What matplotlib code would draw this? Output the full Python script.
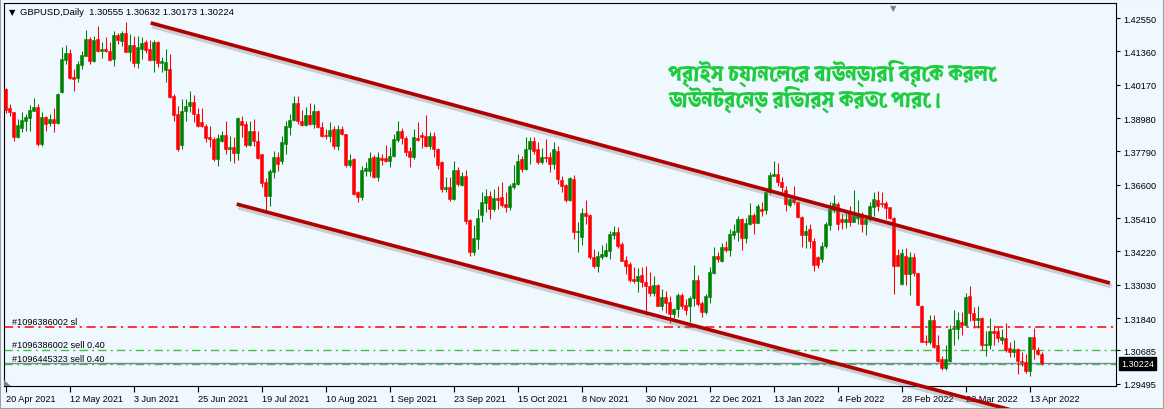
import matplotlib
matplotlib.use("Agg")
import matplotlib.pyplot as plt
import matplotlib.patheffects as pe
from matplotlib import font_manager as fm
from matplotlib.ft2font import FT2Font
from matplotlib.patches import Rectangle, Polygon
import numpy as np

# daily GBPUSD bars (O, H, L, C)
opens = [
    1.4002, 1.3933, 1.3919, 1.3829, 1.3864, 1.3889, 1.3900, 1.3925, 1.3938, 1.3806,
    1.3903, 1.3879, 1.3895, 1.3882, 1.3992, 1.4107, 1.4130, 1.4044, 1.4040, 1.4089,
    1.4121, 1.4180, 1.4102, 1.4180, 1.4139, 1.4145, 1.4137, 1.4109, 1.4195, 1.4174,
    1.4202, 1.4135, 1.4159, 1.4094, 1.4145, 1.4169, 1.4145, 1.4107, 1.4169, 1.4095,
    1.4071, 1.4073, 1.3978, 1.3913, 1.3802, 1.3925, 1.3940, 1.3954, 1.3913, 1.3883,
    1.3871, 1.3829, 1.3823, 1.3752, 1.3817, 1.3838, 1.3788, 1.3794, 1.3773, 1.3889,
    1.3877, 1.3802, 1.3853, 1.3817, 1.3770, 1.3669, 1.3619, 1.3707, 1.3758, 1.3746,
    1.3806, 1.3867, 1.3892, 1.3952, 1.3889, 1.3873, 1.3909, 1.3877, 1.3925, 1.3865,
    1.3838, 1.3833, 1.3859, 1.3797, 1.3859, 1.3841, 1.3731, 1.3752, 1.3635, 1.3615,
    1.3709, 1.3710, 1.3758, 1.3687, 1.3757, 1.3754, 1.3746, 1.3762, 1.3821, 1.3853,
    1.3826, 1.3782, 1.3758, 1.3827, 1.3838, 1.3833, 1.3799, 1.3835, 1.3788, 1.3743,
    1.3645, 1.3651, 1.3609, 1.3713, 1.3659, 1.3693, 1.3535, 1.3421, 1.3467, 1.3552,
    1.3595, 1.3621, 1.3574, 1.3614, 1.3615, 1.3591, 1.3579, 1.3651, 1.3663, 1.3752,
    1.3717, 1.3786, 1.3816, 1.3786, 1.3740, 1.3759, 1.3759, 1.3735, 1.3782, 1.3678,
    1.3659, 1.3607, 1.3681, 1.3490, 1.3475, 1.3559, 1.3552, 1.3401, 1.3369, 1.3401,
    1.3407, 1.3425, 1.3481, 1.3490, 1.3449, 1.3392, 1.3377, 1.3324, 1.3317, 1.3338,
    1.3312, 1.3300, 1.3273, 1.3302, 1.3228, 1.3259, 1.3240, 1.3199, 1.3217, 1.3266,
    1.3231, 1.3228, 1.3254, 1.3320, 1.3238, 1.3205, 1.3258, 1.3345, 1.3407, 1.3386,
    1.3439, 1.3427, 1.3481, 1.3490, 1.3538, 1.3469, 1.3520, 1.3552, 1.3524, 1.3573,
    1.3571, 1.3633, 1.3692, 1.3698, 1.3669, 1.3643, 1.3588, 1.3609, 1.3597, 1.3544,
    1.3481, 1.3502, 1.3460, 1.3401, 1.3395, 1.3443, 1.3517, 1.3571, 1.3591, 1.3536,
    1.3528, 1.3562, 1.3528, 1.3540, 1.3556, 1.3520, 1.3536, 1.3579, 1.3607, 1.3595,
    1.3595, 1.3579, 1.3540, 1.3409, 1.3306, 1.3405, 1.3341, 1.3401, 1.3345, 1.3228,
    1.3103, 1.3097, 1.3178, 1.3086, 1.3038, 1.3005, 1.3032, 1.3143, 1.3143, 1.3171,
    1.3159, 1.3262, 1.3202, 1.3178, 1.3183, 1.3086, 1.3088, 1.3136, 1.3136, 1.3107,
    1.3112, 1.3076, 1.3064, 1.3074, 1.3032, 1.3028, 1.2996, 1.3115, 1.3071, 1.30555,
]
highs = [
    1.4004, 1.3948, 1.3921, 1.3895, 1.3921, 1.3913, 1.3945, 1.3969, 1.3948, 1.3919,
    1.3907, 1.3913, 1.3933, 1.3988, 1.4152, 1.4159, 1.4145, 1.4073, 1.4103, 1.4139,
    1.4213, 1.4186, 1.4192, 1.4226, 1.4169, 1.4186, 1.4171, 1.4210, 1.4202, 1.4210,
    1.4240, 1.4198, 1.4192, 1.4192, 1.4186, 1.4178, 1.4178, 1.4178, 1.4174, 1.4115,
    1.4145, 1.4127, 1.3984, 1.3942, 1.3966, 1.3966, 1.3996, 1.3981, 1.3933, 1.3933,
    1.3877, 1.3871, 1.3829, 1.3841, 1.3853, 1.3889, 1.3835, 1.3829, 1.3901, 1.3907,
    1.3889, 1.3887, 1.3895, 1.3853, 1.3770, 1.3683, 1.3716, 1.3782, 1.3776, 1.3835,
    1.3889, 1.3913, 1.3978, 1.3978, 1.3928, 1.3936, 1.3952, 1.3948, 1.3928, 1.3885,
    1.3859, 1.3883, 1.3871, 1.3873, 1.3871, 1.3841, 1.3770, 1.3754, 1.3639, 1.3728,
    1.3740, 1.3776, 1.3766, 1.3778, 1.3770, 1.3802, 1.3794, 1.3841, 1.3889, 1.3862,
    1.3835, 1.3794, 1.3859, 1.3883, 1.3847, 1.3909, 1.3847, 1.3847, 1.3790, 1.3746,
    1.3687, 1.3687, 1.3746, 1.3723, 1.3705, 1.3713, 1.3538, 1.3516, 1.3574, 1.3635,
    1.3645, 1.3639, 1.3645, 1.3657, 1.3669, 1.3633, 1.3663, 1.3731, 1.3770, 1.3764,
    1.3829, 1.3829, 1.3829, 1.3811, 1.3790, 1.3823, 1.3778, 1.3811, 1.3797, 1.3693,
    1.3663, 1.3687, 1.3696, 1.3526, 1.3576, 1.3607, 1.3556, 1.3431, 1.3425, 1.3445,
    1.3452, 1.3496, 1.3514, 1.3508, 1.3455, 1.3407, 1.3383, 1.3365, 1.3362, 1.3365,
    1.3369, 1.3348, 1.3335, 1.3306, 1.3288, 1.3282, 1.3264, 1.3219, 1.3273, 1.3273,
    1.3252, 1.3264, 1.3374, 1.3338, 1.3246, 1.3270, 1.3365, 1.3437, 1.3419, 1.3452,
    1.3460, 1.3502, 1.3520, 1.3550, 1.3540, 1.3540, 1.3595, 1.3559, 1.3591, 1.3597,
    1.3635, 1.3707, 1.3746, 1.3738, 1.3687, 1.3654, 1.3623, 1.3657, 1.3600, 1.3550,
    1.3517, 1.3520, 1.3469, 1.3407, 1.3454, 1.3526, 1.3597, 1.3623, 1.3600, 1.3556,
    1.3562, 1.3585, 1.3642, 1.3607, 1.3564, 1.3550, 1.3600, 1.3635, 1.3639, 1.3633,
    1.3603, 1.3579, 1.3544, 1.3431, 1.3431, 1.3433, 1.3419, 1.3416, 1.3345, 1.3231,
    1.3124, 1.3193, 1.3195, 1.3124, 1.3050, 1.3086, 1.3159, 1.3214, 1.3205, 1.3205,
    1.3273, 1.3297, 1.3222, 1.3226, 1.3187, 1.3139, 1.3183, 1.3155, 1.3151, 1.3145,
    1.3167, 1.3100, 1.3107, 1.3076, 1.3062, 1.3056, 1.3115, 1.3147, 1.3080, 1.30632,
]
lows = [
    1.3916, 1.3907, 1.3818, 1.3826, 1.3850, 1.3853, 1.3853, 1.3925, 1.3797, 1.3797,
    1.3853, 1.3869, 1.3850, 1.3877, 1.3988, 1.4091, 1.4038, 1.3996, 1.4028, 1.4073,
    1.4119, 1.4091, 1.4097, 1.4135, 1.4112, 1.4133, 1.4103, 1.4085, 1.4163, 1.4154,
    1.4133, 1.4103, 1.4079, 1.4076, 1.4109, 1.4130, 1.4103, 1.4064, 1.4079, 1.4064,
    1.4026, 1.3969, 1.3889, 1.3782, 1.3788, 1.3889, 1.3919, 1.3883, 1.3865, 1.3865,
    1.3812, 1.3794, 1.3746, 1.3726, 1.3812, 1.3770, 1.3746, 1.3738, 1.3750, 1.3829,
    1.3794, 1.3797, 1.3800, 1.3752, 1.3651, 1.3568, 1.3585, 1.3683, 1.3710, 1.3734,
    1.3770, 1.3838, 1.3889, 1.3877, 1.3871, 1.3869, 1.3873, 1.3862, 1.3862, 1.3829,
    1.3823, 1.3814, 1.3788, 1.3785, 1.3838, 1.3722, 1.3722, 1.3623, 1.3600, 1.3607,
    1.3690, 1.3690, 1.3683, 1.3675, 1.3731, 1.3740, 1.3722, 1.3758, 1.3812, 1.3806,
    1.3764, 1.3722, 1.3752, 1.3817, 1.3790, 1.3794, 1.3786, 1.3758, 1.3717, 1.3633,
    1.3635, 1.3603, 1.3607, 1.3654, 1.3657, 1.3520, 1.3407, 1.3409, 1.3431, 1.3528,
    1.3562, 1.3538, 1.3568, 1.3574, 1.3579, 1.3564, 1.3571, 1.3645, 1.3659, 1.3705,
    1.3714, 1.3735, 1.3770, 1.3735, 1.3735, 1.3740, 1.3705, 1.3717, 1.3663, 1.3635,
    1.3600, 1.3603, 1.3467, 1.3421, 1.3445, 1.3520, 1.3395, 1.3362, 1.3350, 1.3395,
    1.3401, 1.3393, 1.3467, 1.3433, 1.3386, 1.3341, 1.3314, 1.3309, 1.3276, 1.3294,
    1.3193, 1.3264, 1.3264, 1.3226, 1.3214, 1.3202, 1.3166, 1.3183, 1.3187, 1.3217,
    1.3193, 1.3169, 1.3226, 1.3226, 1.3187, 1.3199, 1.3238, 1.3341, 1.3383, 1.3383,
    1.3421, 1.3407, 1.3466, 1.3460, 1.3428, 1.3452, 1.3517, 1.3484, 1.3524, 1.3550,
    1.3556, 1.3627, 1.3692, 1.3657, 1.3633, 1.3568, 1.3579, 1.3591, 1.3540, 1.3437,
    1.3433, 1.3433, 1.3353, 1.3362, 1.3383, 1.3433, 1.3500, 1.3562, 1.3500, 1.3502,
    1.3505, 1.3514, 1.3526, 1.3520, 1.3493, 1.3481, 1.3532, 1.3550, 1.3567, 1.3579,
    1.3536, 1.3538, 1.3270, 1.3369, 1.3302, 1.3302, 1.3266, 1.3335, 1.3231, 1.3097,
    1.3086, 1.3091, 1.3076, 1.3028, 1.3000, 1.3000, 1.3028, 1.3086, 1.3109, 1.3124,
    1.3157, 1.3175, 1.3147, 1.3147, 1.3068, 1.3050, 1.3074, 1.3086, 1.3097, 1.3091,
    1.3064, 1.3044, 1.3044, 1.2984, 1.3014, 1.2988, 1.2976, 1.3038, 1.3052, 1.30173,
]
closes = [
    1.3928, 1.3919, 1.3829, 1.3874, 1.3891, 1.3903, 1.3928, 1.3938, 1.3806, 1.3903,
    1.3876, 1.3895, 1.3882, 1.3984, 1.4109, 1.4130, 1.4040, 1.4036, 1.4091, 1.4123,
    1.4180, 1.4103, 1.4178, 1.4139, 1.4145, 1.4139, 1.4107, 1.4195, 1.4178, 1.4202,
    1.4135, 1.4159, 1.4095, 1.4151, 1.4166, 1.4141, 1.4107, 1.4169, 1.4095, 1.4103,
    1.4100, 1.3975, 1.3910, 1.3788, 1.3925, 1.3942, 1.3954, 1.3913, 1.3871, 1.3871,
    1.3826, 1.3823, 1.3752, 1.3826, 1.3838, 1.3788, 1.3794, 1.3773, 1.3897, 1.3873,
    1.3802, 1.3853, 1.3817, 1.3754, 1.3666, 1.3619, 1.3710, 1.3758, 1.3734, 1.3812,
    1.3871, 1.3892, 1.3952, 1.3889, 1.3873, 1.3909, 1.3877, 1.3925, 1.3865, 1.3835,
    1.3833, 1.3857, 1.3800, 1.3859, 1.3841, 1.3731, 1.3750, 1.3627, 1.3615, 1.3714,
    1.3721, 1.3754, 1.3687, 1.3758, 1.3750, 1.3746, 1.3764, 1.3823, 1.3853, 1.3826,
    1.3776, 1.3758, 1.3829, 1.3821, 1.3829, 1.3797, 1.3833, 1.3788, 1.3729, 1.3645,
    1.3651, 1.3609, 1.3713, 1.3663, 1.3693, 1.3532, 1.3421, 1.3469, 1.3540, 1.3600,
    1.3621, 1.3574, 1.3613, 1.3607, 1.3588, 1.3579, 1.3654, 1.3666, 1.3746, 1.3717,
    1.3788, 1.3816, 1.3782, 1.3743, 1.3759, 1.3755, 1.3735, 1.3786, 1.3681, 1.3657,
    1.3607, 1.3683, 1.3493, 1.3495, 1.3559, 1.3550, 1.3401, 1.3369, 1.3407, 1.3411,
    1.3428, 1.3484, 1.3490, 1.3440, 1.3389, 1.3371, 1.3321, 1.3317, 1.3335, 1.3312,
    1.3297, 1.3273, 1.3302, 1.3228, 1.3259, 1.3238, 1.3199, 1.3217, 1.3266, 1.3228,
    1.3214, 1.3254, 1.3320, 1.3234, 1.3205, 1.3264, 1.3348, 1.3407, 1.3393, 1.3439,
    1.3428, 1.3484, 1.3496, 1.3538, 1.3469, 1.3524, 1.3552, 1.3524, 1.3585, 1.3568,
    1.3633, 1.3695, 1.3698, 1.3669, 1.3651, 1.3591, 1.3609, 1.3597, 1.3544, 1.3481,
    1.3496, 1.3460, 1.3374, 1.3374, 1.3443, 1.3520, 1.3573, 1.3595, 1.3520, 1.3528,
    1.3538, 1.3526, 1.3552, 1.3552, 1.3520, 1.3538, 1.3583, 1.3609, 1.3585, 1.3591,
    1.3578, 1.3540, 1.3371, 1.3369, 1.3416, 1.3341, 1.3401, 1.3344, 1.3231, 1.3100,
    1.3097, 1.3178, 1.3080, 1.3032, 1.3005, 1.3038, 1.3145, 1.3147, 1.3178, 1.3159,
    1.3258, 1.3202, 1.3178, 1.3183, 1.3086, 1.3091, 1.3136, 1.3131, 1.3112, 1.3115,
    1.3071, 1.3064, 1.3074, 1.3032, 1.3026, 1.2996, 1.3115, 1.3074, 1.3056, 1.30224,
]

date_labels = ["20 Apr 2021", "12 May 2021", "3 Jun 2021", "25 Jun 2021", "19 Jul 2021",
               "10 Aug 2021", "1 Sep 2021", "23 Sep 2021", "15 Oct 2021", "8 Nov 2021",
               "30 Nov 2021", "22 Dec 2021", "13 Jan 2022", "4 Feb 2022", "28 Feb 2022",
               "22 Mar 2022", "13 Apr 2022"]
price_ticks = [1.42550, 1.41360, 1.40170, 1.38980, 1.37790, 1.36600, 1.35410,
               1.34220, 1.33030, 1.31840, 1.30685, 1.29495]
bid = 1.30224
sl_level = 1.3151
sell_levels = [1.30685, 1.3018]
order_texts = ["#1096386002 sl", "#1096386002 sell 0.40", "#1096445323 sell 0.40"]
# channel trendlines (bar index, price)
upper_x, upper_y = [36.3, 276.1], [1.4238, 1.3309]
lower_x, lower_y = [57.8, 252.4], [1.3591, 1.2852]
header = "GBPUSD,Daily  1.30555 1.30632 1.30173 1.30224"
note = ["প্রাইস চ্যানেলের বাউন্ডারি ব্রেক করলে", "ডাউনট্রেন্ড রিভার্স করতে পারে।"]

plt.rcParams['font.family'] = ['Liberation Sans', 'DejaVu Sans']

# look for a font with bengali glyphs, bold one preferred
beng, beng_bold = None, None
for fe in fm.fontManager.ttflist:
    try:
        if 0x09AA in FT2Font(fe.fname).get_charmap():
            if beng is None:
                beng = fe.fname
            if fe.weight in (600, 700, 'bold', 'semibold') and beng_bold is None:
                beng_bold = fe.fname
    except Exception:
        pass
if beng is None:
    for p in fm.findSystemFonts():
        try:
            if 0x09AA in FT2Font(p).get_charmap():
                beng = p
                break
        except Exception:
            pass
pick = beng_bold or beng
beng_prop = fm.FontProperties(fname=pick, size=15.5) if pick else fm.FontProperties(family='Noto Sans', size=15.5)

bg = '#F0F8FF'
up_col, dn_col = '#008000', '#FF0000'

o, h, l, c = map(np.array, (opens, highs, lows, closes))
x = np.arange(len(o))
cols = np.where(c >= o, up_col, dn_col)

fig = plt.figure(figsize=(11.64, 4.10), dpi=100, facecolor=bg)
ax = fig.add_axes([4 / 1164, 23 / 410, 1112 / 1164, 383 / 410], facecolor=bg)

ax.vlines(x, l, h, colors=cols, linewidth=0.75, zorder=3)
ax.bar(x, np.abs(c - o), bottom=np.minimum(o, c), width=0.72, color=cols,
       edgecolor=cols, linewidth=0.4, zorder=4)

# order lines
ax.axhline(sl_level, color='#FF0000', lw=1.1, dashes=(6, 3, 1.5, 3), zorder=2)
for lev in sell_levels:
    ax.axhline(lev, color='#3CC43C', lw=1, dashes=(6, 3, 1.5, 3), zorder=2)
ax.axhline(bid, color='#778899', lw=1, zorder=2)
for txt, lev in zip(order_texts, [sl_level] + sell_levels):
    ax.annotate(txt, xy=(0.007, lev), xycoords=('axes fraction', 'data'),
                xytext=(0, 1.2), textcoords='offset points', fontsize=6.6,
                va='bottom', ha='left', color='black', zorder=6)

# channel
shadow = [pe.SimpleLineShadow(offset=(1.2, -2.2), shadow_color='#707070', alpha=0.3, linewidth=3.6),
          pe.Normal()]
ax.plot(upper_x, upper_y, color='#B00000', lw=2.6, solid_capstyle='butt',
        path_effects=shadow, zorder=5)
ax.plot(lower_x, lower_y, color='#B00000', lw=2.6, solid_capstyle='butt',
        path_effects=shadow, zorder=5, clip_on=False)

ax.set_xlim(-0.375, 277.625)
ax.set_ylim(1.29412, 1.43091)

ax.yaxis.tick_right()
ax.set_yticks(price_ticks)
ax.set_yticklabels([f"{t:.5f}" for t in price_ticks])
ax.tick_params(axis='y', length=3, width=0.8, pad=2, labelsize=6.6)
ax.set_xticks(x[::16])
ax.set_xticklabels(date_labels, ha='left')
ax.tick_params(axis='x', length=4, width=0.8, pad=2, labelsize=6.6)
for s in ax.spines.values():
    s.set_linewidth(0.8)

ax.text(1.0045, bid, f"{bid:.5f}", transform=ax.get_yaxis_transform(), fontsize=6.6,
        color='white', va='center', ha='left',
        bbox=dict(boxstyle='square,pad=0.2', fc='black', ec='black'), clip_on=False)

ax.text(0.0072, 0.978, "▼", transform=ax.transAxes, fontsize=6, va='center', ha='center',
        family='DejaVu Sans')
ax.text(0.0144, 0.978, header, transform=ax.transAxes, fontsize=6.8, va='center', ha='left')
# chart shift marker and scroll corner
ax.text(0.7995, 0.988, "▼", transform=ax.transAxes, fontsize=6, va='center', ha='center',
        color='#808080', family='DejaVu Sans')
ax.add_patch(Polygon([[0.0, 0.0], [0.006, 0.0], [0.0, 0.016]], closed=True,
                     transform=ax.transAxes, fc='#808080', ec='none', zorder=6))

ax.text(0.597, 0.820, note[0], transform=ax.transAxes, color='#1FCC3F', va='center',
        ha='left', fontproperties=beng_prop)
ax.text(0.597, 0.752, note[1], transform=ax.transAxes, color='#1FCC3F', va='center',
        ha='left', fontproperties=beng_prop)

fig.patches.append(Rectangle((0, 0), 1, 1, transform=fig.transFigure, fill=False,
                             edgecolor='#A0A0A0', lw=1.5))

fig.savefig("out.png", dpi=100, facecolor=bg)
